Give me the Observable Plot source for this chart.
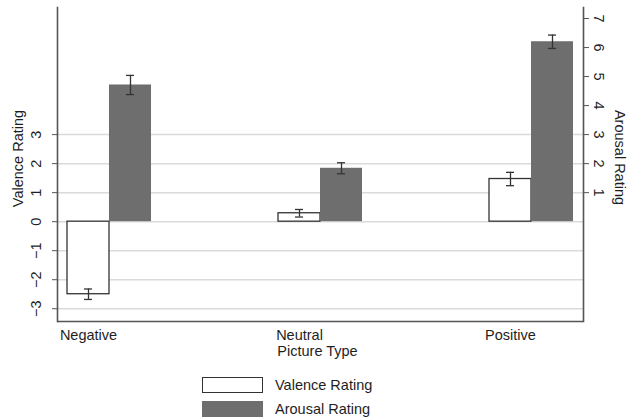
<!DOCTYPE html>
<html><head><meta charset="utf-8">
<script src="https://cdn.jsdelivr.net/npm/d3@7"></script>
<script src="https://cdn.jsdelivr.net/npm/@observablehq/plot@0.6"></script>
<style>
body{margin:0;background:#fff;font-family:"Liberation Sans",Arial,sans-serif;}
#wrap{position:relative;width:629px;height:420px;}
#legend{position:absolute;left:202px;top:377px;}
.row{display:flex;align-items:center;height:16px;margin-bottom:8px;}
.sw{width:61px;height:16px;box-sizing:border-box;}
.lab{margin-left:12px;font-size:14.5px;color:#1e1e1e;line-height:16px;}
</style></head><body><div id="wrap"></div>
<script>
const pictureTypes = ["Negative", "Neutral", "Positive"];
const valence = [-2.5, 0.29, 1.47];
const valenceErr = [0.18, 0.13, 0.23];
const arousal = [4.71, 1.84, 6.20];
const arousalErr = [0.33, 0.19, 0.23];
const valenceTicks = [-3, -2, -1, 0, 1, 2, 3];
const arousalTicks = [1, 2, 3, 4, 5, 6, 7];
const seriesNames = ["Valence Rating", "Arousal Rating"];
const seriesFill = ["white", "#6e6e6e"];
const xTitle = "Picture Type";

const data = pictureTypes.map((t, i) => ({
  type: t, valence: valence[i], valenceErr: valenceErr[i],
  arousal: arousal[i], arousalErr: arousalErr[i]
}));
const yDomain = [-3.44, 7.38];
const ink = "#333";
const axisInk = "#555";
const txt = "#1e1e1e";

const chart = Plot.plot({
  width: 629, height: 362,
  marginLeft: 57, marginRight: 46, marginTop: 7, marginBottom: 41,
  style: {fontFamily: '"Liberation Sans", Arial, sans-serif', fontSize: "14.5px", color: txt, background: "white"},
  x: {type: "band", domain: pictureTypes, paddingInner: 0.80095, paddingOuter: 0.14692, round: false, axis: null},
  y: {domain: yDomain, axis: null},
  marks: [
    Plot.ruleY(valenceTicks, {stroke: "#dadada", strokeWidth: 1.5}),
    Plot.barY(data, {x: "type", y: "valence", dx: -21, fill: seriesFill[0], stroke: ink, strokeWidth: 1.3}),
    Plot.barY(data, {x: "type", y: "arousal", dx: 21, fill: seriesFill[1]}),
    Plot.ruleX(data, {x: "type", y1: d => d.valence - d.valenceErr, y2: d => d.valence + d.valenceErr, dx: -21, stroke: ink, strokeWidth: 1.3}),
    Plot.tickY(data, {x: "type", y: d => d.valence + d.valenceErr, dx: -21, inset: 17, stroke: ink, strokeWidth: 1.3}),
    Plot.tickY(data, {x: "type", y: d => d.valence - d.valenceErr, dx: -21, inset: 17, stroke: ink, strokeWidth: 1.3}),
    Plot.ruleX(data, {x: "type", y1: d => d.arousal - d.arousalErr, y2: d => d.arousal + d.arousalErr, dx: 21, stroke: ink, strokeWidth: 1.3}),
    Plot.tickY(data, {x: "type", y: d => d.arousal + d.arousalErr, dx: 21, inset: 17, stroke: ink, strokeWidth: 1.3}),
    Plot.tickY(data, {x: "type", y: d => d.arousal - d.arousalErr, dx: 21, inset: 17, stroke: ink, strokeWidth: 1.3}),
    Plot.ruleY([yDomain[0]], {stroke: axisInk, strokeWidth: 1.6}),
    Plot.frame({anchor: "left", stroke: axisInk, strokeWidth: 1.6}),
    Plot.frame({anchor: "right", stroke: axisInk, strokeWidth: 1.6}),
    Plot.axisY(valenceTicks, {anchor: "left", tickSize: 5, tickPadding: 12, tickRotate: -90, textAnchor: "middle", lineAnchor: "bottom", stroke: axisInk, fill: txt, label: null}),
    Plot.axisY(arousalTicks, {anchor: "right", tickSize: 5, tickPadding: 5, tickRotate: 90, textAnchor: "middle", lineAnchor: "bottom", stroke: axisInk, fill: txt, label: null}),
    Plot.text(pictureTypes, {x: d => d, frameAnchor: "bottom", dx: -21, dy: 18, lineAnchor: "bottom", fill: txt}),
    Plot.text([xTitle], {frameAnchor: "bottom", dx: -3, dy: 34.5, lineAnchor: "bottom", fill: txt}),
    Plot.text([seriesNames[0]], {frameAnchor: "left", dx: -35, dy: -6, rotate: -90, textAnchor: "middle", lineAnchor: "bottom", fill: txt}),
    Plot.text([seriesNames[1]], {frameAnchor: "right", dx: 31, dy: -7, rotate: 90, textAnchor: "middle", lineAnchor: "bottom", fill: txt})
  ]
});
const wrap = document.getElementById("wrap");
wrap.appendChild(chart);

const legend = document.createElement("div");
legend.id = "legend";
seriesNames.forEach((name, i) => {
  const row = document.createElement("div");
  row.className = "row";
  const sw = document.createElement("div");
  sw.className = "sw";
  sw.style.background = seriesFill[i];
  sw.style.border = i === 0 ? "1.3px solid " + ink : "none";
  const lab = document.createElement("span");
  lab.className = "lab";
  lab.textContent = name;
  row.appendChild(sw);
  row.appendChild(lab);
  legend.appendChild(row);
});
wrap.appendChild(legend);
</script>
</body></html>
